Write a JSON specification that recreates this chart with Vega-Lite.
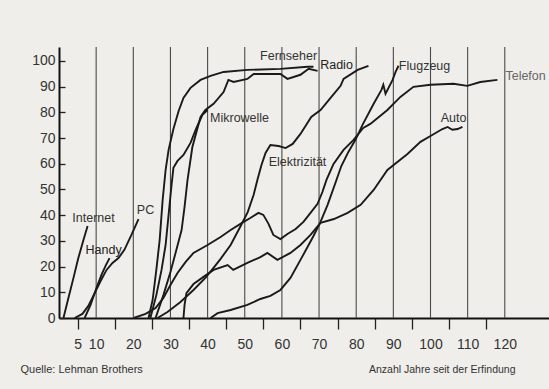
{
  "$schema": "https://vega.github.io/schema/vega-lite/v6.json",
  "width": 490,
  "height": 271,
  "autosize": {"type": "none"},
  "padding": {"left": 59, "top": 47, "right": 0, "bottom": 71},
  "background": "#efeeea",
  "config": {
    "view": {"stroke": null},
    "font": "Liberation Sans"
  },
  "datasets": {
    "curves": [
      {"s": "Internet", "x": 1.2, "y": 0}, {"s": "Internet", "x": 2.6, "y": 8.2}, {"s": "Internet", "x": 3.9, "y": 15.6}, {"s": "Internet", "x": 5.2, "y": 23.3}, {"s": "Internet", "x": 6.6, "y": 30.4}, {"s": "Internet", "x": 7.7, "y": 35.8},
      {"s": "Handy", "x": 6.9, "y": 0}, {"s": "Handy", "x": 8.5, "y": 5.1}, {"s": "Handy", "x": 10.1, "y": 11.7}, {"s": "Handy", "x": 11.4, "y": 16.7}, {"s": "Handy", "x": 12.5, "y": 20.2}, {"s": "Handy", "x": 13.6, "y": 23.3},
      {"s": "PC", "x": 4.2, "y": 0}, {"s": "PC", "x": 6.3, "y": 1.6}, {"s": "PC", "x": 7.9, "y": 4.7}, {"s": "PC", "x": 9.6, "y": 9.7}, {"s": "PC", "x": 11.2, "y": 14.4}, {"s": "PC", "x": 12.8, "y": 18.7}, {"s": "PC", "x": 14.4, "y": 21.4}, {"s": "PC", "x": 16.0, "y": 23.3}, {"s": "PC", "x": 17.6, "y": 26.5}, {"s": "PC", "x": 19.5, "y": 32.3}, {"s": "PC", "x": 21.4, "y": 38.5},
      {"s": "Fernseher", "x": 24.1, "y": 0}, {"s": "Fernseher", "x": 25.2, "y": 7.0}, {"s": "Fernseher", "x": 26.2, "y": 18.7}, {"s": "Fernseher", "x": 27.1, "y": 30.4}, {"s": "Fernseher", "x": 27.9, "y": 45.9}, {"s": "Fernseher", "x": 28.7, "y": 57.6}, {"s": "Fernseher", "x": 29.5, "y": 65.4}, {"s": "Fernseher", "x": 30.8, "y": 73.5}, {"s": "Fernseher", "x": 32.2, "y": 80.5}, {"s": "Fernseher", "x": 33.5, "y": 85.6}, {"s": "Fernseher", "x": 35.4, "y": 89.5}, {"s": "Fernseher", "x": 38.1, "y": 92.6}, {"s": "Fernseher", "x": 40.8, "y": 94.2}, {"s": "Fernseher", "x": 44.3, "y": 95.7}, {"s": "Fernseher", "x": 50.7, "y": 96.5}, {"s": "Fernseher", "x": 59.6, "y": 96.9}, {"s": "Fernseher", "x": 66.9, "y": 97.7}, {"s": "Fernseher", "x": 68.5, "y": 97.7},
      {"s": "Radio", "x": 26.0, "y": 0}, {"s": "Radio", "x": 28.1, "y": 8.9}, {"s": "Radio", "x": 30.0, "y": 17.9}, {"s": "Radio", "x": 31.6, "y": 26.5}, {"s": "Radio", "x": 33.0, "y": 34.2}, {"s": "Radio", "x": 33.8, "y": 43.2}, {"s": "Radio", "x": 34.6, "y": 53.7}, {"s": "Radio", "x": 35.9, "y": 66.5}, {"s": "Radio", "x": 38.1, "y": 78.2}, {"s": "Radio", "x": 39.4, "y": 80.9}, {"s": "Radio", "x": 41.6, "y": 83.3}, {"s": "Radio", "x": 44.3, "y": 87.9}, {"s": "Radio", "x": 45.6, "y": 92.6}, {"s": "Radio", "x": 47.0, "y": 91.8}, {"s": "Radio", "x": 50.7, "y": 93.0}, {"s": "Radio", "x": 52.4, "y": 94.9}, {"s": "Radio", "x": 59.6, "y": 94.9}, {"s": "Radio", "x": 61.5, "y": 93.0}, {"s": "Radio", "x": 65.0, "y": 94.6}, {"s": "Radio", "x": 67.2, "y": 96.9}, {"s": "Radio", "x": 69.6, "y": 96.1},
      {"s": "Mikrowelle", "x": 24.6, "y": 0}, {"s": "Mikrowelle", "x": 26.2, "y": 8.9}, {"s": "Mikrowelle", "x": 27.6, "y": 18.7}, {"s": "Mikrowelle", "x": 28.7, "y": 28.4}, {"s": "Mikrowelle", "x": 29.5, "y": 40.1}, {"s": "Mikrowelle", "x": 30.3, "y": 51.8}, {"s": "Mikrowelle", "x": 30.8, "y": 58.4}, {"s": "Mikrowelle", "x": 31.9, "y": 61.1}, {"s": "Mikrowelle", "x": 33.5, "y": 63.4}, {"s": "Mikrowelle", "x": 35.4, "y": 68.1}, {"s": "Mikrowelle", "x": 37.0, "y": 73.9}, {"s": "Mikrowelle", "x": 38.6, "y": 79.0}, {"s": "Mikrowelle", "x": 40.0, "y": 80.9},
      {"s": "Elektrizität", "x": 26.5, "y": 0}, {"s": "Elektrizität", "x": 29.2, "y": 2.3}, {"s": "Elektrizität", "x": 32.7, "y": 6.2}, {"s": "Elektrizität", "x": 36.2, "y": 10.9}, {"s": "Elektrizität", "x": 39.4, "y": 15.6}, {"s": "Elektrizität", "x": 41.6, "y": 19.5}, {"s": "Elektrizität", "x": 43.5, "y": 23.0}, {"s": "Elektrizität", "x": 46.2, "y": 28.4}, {"s": "Elektrizität", "x": 48.9, "y": 35.8}, {"s": "Elektrizität", "x": 50.8, "y": 41.2}, {"s": "Elektrizität", "x": 52.4, "y": 47.9}, {"s": "Elektrizität", "x": 53.4, "y": 53.7}, {"s": "Elektrizität", "x": 54.5, "y": 59.5}, {"s": "Elektrizität", "x": 55.6, "y": 64.2}, {"s": "Elektrizität", "x": 56.9, "y": 67.3}, {"s": "Elektrizität", "x": 59.1, "y": 66.9}, {"s": "Elektrizität", "x": 61.0, "y": 66.1}, {"s": "Elektrizität", "x": 62.9, "y": 67.7}, {"s": "Elektrizität", "x": 65.0, "y": 71.6}, {"s": "Elektrizität", "x": 67.9, "y": 78.2}, {"s": "Elektrizität", "x": 70.4, "y": 80.9}, {"s": "Elektrizität", "x": 73.1, "y": 85.6}, {"s": "Elektrizität", "x": 75.8, "y": 90.3}, {"s": "Elektrizität", "x": 76.6, "y": 93.0}, {"s": "Elektrizität", "x": 80.4, "y": 96.5}, {"s": "Elektrizität", "x": 83.3, "y": 98.1},
      {"s": "Auto", "x": 33.5, "y": 0}, {"s": "Auto", "x": 33.8, "y": 5.1}, {"s": "Auto", "x": 34.3, "y": 9.7}, {"s": "Auto", "x": 36.2, "y": 13.2}, {"s": "Auto", "x": 38.9, "y": 16.0}, {"s": "Auto", "x": 41.6, "y": 18.7}, {"s": "Auto", "x": 45.4, "y": 20.6}, {"s": "Auto", "x": 46.9, "y": 18.7}, {"s": "Auto", "x": 50.7, "y": 21.4}, {"s": "Auto", "x": 54.2, "y": 23.7}, {"s": "Auto", "x": 56.1, "y": 25.3}, {"s": "Auto", "x": 58.8, "y": 22.6}, {"s": "Auto", "x": 62.3, "y": 25.3}, {"s": "Auto", "x": 65.0, "y": 28.4}, {"s": "Auto", "x": 67.7, "y": 32.3}, {"s": "Auto", "x": 70.4, "y": 37.0}, {"s": "Auto", "x": 74.0, "y": 38.5}, {"s": "Auto", "x": 77.7, "y": 40.9}, {"s": "Auto", "x": 81.2, "y": 44.0}, {"s": "Auto", "x": 84.7, "y": 49.8}, {"s": "Auto", "x": 88.4, "y": 57.6}, {"s": "Auto", "x": 93.8, "y": 63.8}, {"s": "Auto", "x": 97.3, "y": 68.5}, {"s": "Auto", "x": 100.0, "y": 70.8}, {"s": "Auto", "x": 103.2, "y": 73.5}, {"s": "Auto", "x": 104.6, "y": 74.3}, {"s": "Auto", "x": 105.9, "y": 73.2}, {"s": "Auto", "x": 107.3, "y": 73.5}, {"s": "Auto", "x": 108.6, "y": 74.3},
      {"s": "Flugzeug", "x": 40.8, "y": 0}, {"s": "Flugzeug", "x": 42.7, "y": 1.9}, {"s": "Flugzeug", "x": 46.2, "y": 3.1}, {"s": "Flugzeug", "x": 50.7, "y": 5.1}, {"s": "Flugzeug", "x": 54.2, "y": 7.4}, {"s": "Flugzeug", "x": 56.9, "y": 8.6}, {"s": "Flugzeug", "x": 59.6, "y": 10.9}, {"s": "Flugzeug", "x": 62.3, "y": 15.6}, {"s": "Flugzeug", "x": 65.0, "y": 22.6}, {"s": "Flugzeug", "x": 66.9, "y": 27.6}, {"s": "Flugzeug", "x": 68.5, "y": 31.9}, {"s": "Flugzeug", "x": 70.4, "y": 37.4}, {"s": "Flugzeug", "x": 72.3, "y": 44.0}, {"s": "Flugzeug", "x": 74.4, "y": 52.5}, {"s": "Flugzeug", "x": 76.0, "y": 59.1}, {"s": "Flugzeug", "x": 77.9, "y": 64.6}, {"s": "Flugzeug", "x": 79.8, "y": 69.3}, {"s": "Flugzeug", "x": 81.7, "y": 75.1}, {"s": "Flugzeug", "x": 84.7, "y": 83.3}, {"s": "Flugzeug", "x": 86.8, "y": 88.7}, {"s": "Flugzeug", "x": 87.3, "y": 90.7}, {"s": "Flugzeug", "x": 87.9, "y": 87.2}, {"s": "Flugzeug", "x": 89.8, "y": 92.6}, {"s": "Flugzeug", "x": 90.6, "y": 95.7}, {"s": "Flugzeug", "x": 91.4, "y": 98.1},
      {"s": "Telefon", "x": 20.1, "y": 0}, {"s": "Telefon", "x": 23.3, "y": 1.6}, {"s": "Telefon", "x": 26.0, "y": 3.9}, {"s": "Telefon", "x": 28.1, "y": 7.8}, {"s": "Telefon", "x": 30.0, "y": 12.8}, {"s": "Telefon", "x": 31.9, "y": 17.5}, {"s": "Telefon", "x": 34.1, "y": 21.8}, {"s": "Telefon", "x": 36.2, "y": 25.3}, {"s": "Telefon", "x": 40.0, "y": 28.4}, {"s": "Telefon", "x": 43.5, "y": 31.5}, {"s": "Telefon", "x": 46.2, "y": 34.2}, {"s": "Telefon", "x": 49.7, "y": 37.4}, {"s": "Telefon", "x": 51.5, "y": 38.9}, {"s": "Telefon", "x": 53.7, "y": 40.9}, {"s": "Telefon", "x": 55.0, "y": 40.1}, {"s": "Telefon", "x": 56.4, "y": 36.6}, {"s": "Telefon", "x": 57.7, "y": 32.3}, {"s": "Telefon", "x": 59.6, "y": 30.7}, {"s": "Telefon", "x": 61.5, "y": 32.7}, {"s": "Telefon", "x": 63.7, "y": 34.6}, {"s": "Telefon", "x": 65.8, "y": 37.4}, {"s": "Telefon", "x": 67.7, "y": 40.9}, {"s": "Telefon", "x": 69.6, "y": 44.4}, {"s": "Telefon", "x": 70.9, "y": 49.0}, {"s": "Telefon", "x": 72.0, "y": 53.7}, {"s": "Telefon", "x": 73.9, "y": 59.9}, {"s": "Telefon", "x": 76.6, "y": 65.4}, {"s": "Telefon", "x": 79.3, "y": 69.3}, {"s": "Telefon", "x": 81.9, "y": 73.9}, {"s": "Telefon", "x": 83.8, "y": 75.5}, {"s": "Telefon", "x": 88.4, "y": 80.9}, {"s": "Telefon", "x": 91.9, "y": 86.0}, {"s": "Telefon", "x": 95.4, "y": 89.9}, {"s": "Telefon", "x": 100.0, "y": 90.7}, {"s": "Telefon", "x": 106.2, "y": 91.1}, {"s": "Telefon", "x": 109.9, "y": 90.3}, {"s": "Telefon", "x": 113.4, "y": 91.8}, {"s": "Telefon", "x": 118.0, "y": 92.6}
    ],
    "grid": [
      {"x": 10, "y": 0}, {"x": 20, "y": 0}, {"x": 30, "y": 0}, {"x": 40, "y": 0}, {"x": 50, "y": 0}, {"x": 60, "y": 0}, {"x": 70, "y": 0}, {"x": 80, "y": 0}, {"x": 90, "y": 0}, {"x": 100, "y": 0}, {"x": 110, "y": 0}, {"x": 120, "y": 0}
    ],
    "labels": [
      {"t": "Internet", "x": 9.3, "y": 38.9, "w": "normal", "c": "#333"},
      {"t": "Handy", "x": 12.0, "y": 26.5, "w": "bold", "c": "#222"},
      {"t": "PC", "x": 23.3, "y": 42.0, "w": "normal", "c": "#333"},
      {"t": "Mikrowelle", "x": 48.6, "y": 77.8, "w": "normal", "c": "#333"},
      {"t": "Elektrizität", "x": 64.2, "y": 60.7, "w": "normal", "c": "#333"},
      {"t": "Fernseher", "x": 61.8, "y": 101.9, "w": "normal", "c": "#333"},
      {"t": "Radio", "x": 74.7, "y": 98.4, "w": "bold", "c": "#222"},
      {"t": "Flugzeug", "x": 98.4, "y": 98.1, "w": "normal", "c": "#333"},
      {"t": "Auto", "x": 106.2, "y": 77.8, "w": "normal", "c": "#333"},
      {"t": "Telefon", "x": 125.6, "y": 94.2, "w": "normal", "c": "#666"}
    ]
  },
  "encoding": {
    "x": {
      "field": "x", "type": "quantitative",
      "scale": {"domain": [0, 131.9], "nice": false, "zero": false},
      "axis": {
        "values": [5, 10, 15, 20, 25, 30, 35, 40, 45, 50, 55, 60, 65, 70, 75, 80, 85, 90, 95, 100, 105, 110, 115, 120],
        "labelExpr": "indexof([15,25,35,45,55,65,75,85,95,105,115], datum.value) >= 0 ? '' : datum.label",
        "labelFontSize": 14, "labelColor": "#333", "labelPadding": 8, "labelFlush": false, "labelOverlap": false,
        "tickSize": 11, "tickWidth": 1.3,
        "tickColor": {"condition": {"test": "indexof([5,15,25,35,45,55,65,75,85,95,105,115], datum.value) >= 0", "value": "#222"}, "value": "transparent"},
        "grid": false,
        "domainColor": "#111", "domainWidth": 2,
        "title": "Anzahl Jahre seit der Erfindung",
        "titleFontSize": 10.5, "titleFontWeight": "normal", "titleColor": "#333",
        "titleX": 456, "titleY": 46, "titleAlign": "right", "titleBaseline": "top"
      }
    },
    "y": {
      "field": "y", "type": "quantitative",
      "scale": {"domain": [0, 105.4], "nice": false},
      "axis": {
        "values": [0, 10, 20, 30, 40, 50, 60, 70, 80, 90, 100],
        "labelFontSize": 14, "labelColor": "#333", "labelPadding": 10, "labelOverlap": false,
        "tickSize": -6, "tickColor": "#222", "tickWidth": 1.3,
        "grid": false,
        "domainColor": "#111", "domainWidth": 2,
        "title": "Quelle: Lehman Brothers",
        "titleAngle": 0, "titleFontSize": 11, "titleFontWeight": "normal", "titleColor": "#333",
        "titleX": -39, "titleY": 316, "titleAlign": "left", "titleBaseline": "top"
      }
    }
  },
  "layer": [
    {
      "data": {"name": "grid"},
      "mark": {"type": "rule", "color": "#4a4a4a", "strokeWidth": 1.1},
      "encoding": {
        "y2": {"datum": 105.4}
      }
    },
    {
      "data": {"name": "curves"},
      "mark": {"type": "line", "color": "#1a1a1a", "strokeWidth": 1.9, "clip": true},
      "encoding": {
        "detail": {"field": "s", "type": "nominal"}
      }
    },
    {
      "data": {"name": "labels"},
      "mark": {"type": "text", "fontSize": 12.5, "align": "center", "baseline": "middle"},
      "encoding": {
        "text": {"field": "t"},
        "fontWeight": {"field": "w", "type": "nominal", "scale": null},
        "color": {"field": "c", "type": "nominal", "scale": null}
      }
    }
  ]
}
